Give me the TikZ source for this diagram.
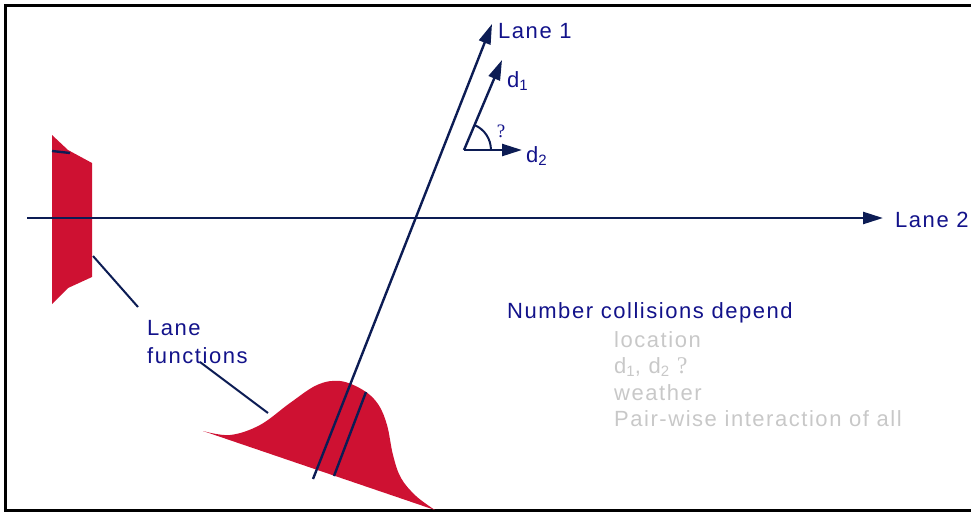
\documentclass[tikz,border=0pt]{standalone}
\usepackage{fontspec}
\setmainfont{Liberation Sans}[LetterSpace=7.0]
\newfontfamily\seriffont{Liberation Serif}
\usetikzlibrary{arrows.meta}
\definecolor{txtblue}{RGB}{18,18,138}
\definecolor{linenavy}{RGB}{12,28,84}
\definecolor{bumpred}{RGB}{206,17,50}
\definecolor{softgrey}{RGB}{200,200,200}
\newcommand{\subsc}[1]{\raisebox{-0.3ex}{\fontsize{15}{15}\selectfont #1}}
\tikzset{
  lane/.style={draw=linenavy, line width=2.4pt},
  lanearrow/.style={lane, -{Triangle[length=20pt,width=12pt]}},
  leader/.style={draw=linenavy, line width=2pt},
  lbl/.style={inner sep=0pt, anchor=base west, text=txtblue, font=\fontsize{22}{26}\selectfont},
  greylbl/.style={inner sep=0pt, anchor=base west, text=softgrey, font=\fontsize{22}{26}\selectfont},
  redfill/.style={fill=bumpred, draw=none}
}
\begin{document}
\begin{tikzpicture}[x=1pt,y=-1pt]
\useasboundingbox (0,0) rectangle (971,512);
% frame
\draw[line width=3pt] (971,5.5) -- (5,5.5) -- (5,510) -- (971,510);
% left lane function
\fill[redfill] (52,135) -- (68,150) -- (92,163) -- (92,277) -- (68,288) -- (52,304) -- cycle;
% bump
\fill[redfill] plot[smooth, tension=0.6] coordinates {(203,431) (230,435) (260,425) (290,403) (317,385) (340,381) (363,390) (378,404) (387,425) (393,455) (401,478) (416,496) (435,510)} -- cycle;
% coordinates
\coordinate (l2s) at (27,218);
\coordinate (l2e) at (883,218);
\coordinate (l1s) at (313,479);
\coordinate (l1e) at (492,24);
\coordinate (ps) at (334,476);
\coordinate (pe) at (366,392);
\coordinate (o) at (464,150);
\coordinate (d1e) at (502,60);
\coordinate (d2e) at (522,150);
\coordinate (tk1) at (52,151);
\coordinate (tk2) at (70,153);
\coordinate (ld1s) at (93,256);
\coordinate (ld1e) at (138,307);
\coordinate (ld2s) at (200,362);
\coordinate (ld2e) at (268,413);
% lanes
\draw[lanearrow] (l2s) -- (l2e);
\draw[lanearrow] (l1s) -- (l1e);
\draw[lane] (ps) -- (pe);
\draw[lane] (tk1) -- (tk2);
% d1 d2
\draw[lanearrow] (o) -- (d1e);
\draw[lanearrow] (o) -- (d2e);
\draw[leader] (474.5,125) arc[start angle=67, end angle=0, radius=27pt];
\node[inner sep=0pt, text=txtblue, font=\seriffont\fontsize{19}{19}\selectfont] (q) at (501,131) {?};
% leaders
\draw[leader] (ld1s) -- (ld1e);
\draw[leader] (ld2s) -- (ld2e);
% labels
\node[lbl] (lane1) at (498,38) {Lane 1};
\node[lbl] (lane2) at (895,227) {Lane 2};
\node[lbl] (d1) at (507,87) {d\subsc{1}};
\node[lbl] (d2) at (526,162) {d\subsc{2}};
\node[lbl] (lf1) at (147,335) {Lane};
\node[lbl] (lf2) at (147,363) {functions};
\node[lbl] (num) at (507,318) {Number collisions depend};
\node[greylbl] (g1) at (614,347) {location};
\node[greylbl] (g2) at (614,373) {d\subsc{1}, d\subsc{2} {\seriffont\fontsize{24}{24}\selectfont ?}};
\node[greylbl] (g3) at (614,400) {weather};
\node[greylbl] (g4) at (614,426) {Pair-wise interaction of all};
\end{tikzpicture}
\end{document}
